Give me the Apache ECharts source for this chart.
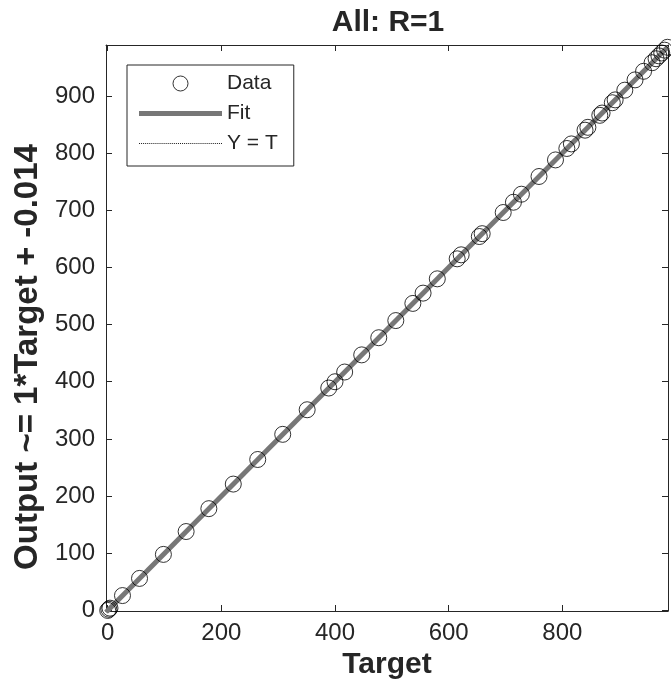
<!DOCTYPE html>
<html><head><meta charset="utf-8">
<script src="https://cdn.jsdelivr.net/npm/echarts@6/dist/echarts.min.js"></script>
<style>html,body{margin:0;padding:0;background:#fff}#c{width:671px;height:685px}</style>
</head><body><div id="c"></div>
<script>
const titleText = 'All: R=1';
const xName = 'Target';
const yName = 'Output ~= 1*Target + -0.014';
const legendNames = ['Data', 'Fit', 'Y = T'];
const xTicks = [0, 200, 400, 600, 800];
const yTicks = [0, 100, 200, 300, 400, 500, 600, 700, 800, 900];
const xLimits = [-3, 986];
const yLimits = [-1, 989];
const targets = [0, 2, 4, 26, 56, 98, 138, 178, 221, 264, 308, 351, 389, 400, 417, 447, 477, 507, 537, 555, 580, 615, 622, 654, 659, 696, 714, 728, 759, 788, 808, 816, 840, 845, 866, 870, 888, 893, 910, 928, 943, 958, 965, 970, 975, 980, 985];
const outputs = [0, 2, 4, 26, 56, 98, 138, 178, 221, 264, 308, 351, 389, 400, 417, 447, 477, 507, 537, 555, 580, 615, 622, 654, 659, 696, 714, 728, 759, 788, 808, 816, 840, 845, 866, 870, 888, 893, 910, 928, 943, 958, 965, 970, 975, 980, 985];
const fitX = [-3, 986];
const fitY = [-3.014, 985.986];
const idX = [-3, 986];
const idY = [-3, 986];

const FONT = '"Liberation Sans", Arial, Helvetica, sans-serif';
const INK = '#262626';
const FITC = '#777777';
const pairs = (a, b) => a.map((v, i) => [v, b[i]]);

// legend icons: a thick bar for the fit line, a row of small dots for Y = T
const fitIcon = 'path://M0,0H83V5H0Z';
let dotPath = '';
for (let i = 0; i < 41; i++) dotPath += 'M' + (i * 2) + ',0h1v1h-1z';
const dotIcon = 'path://' + dotPath;

const chart = echarts.init(document.getElementById('c'), null, {renderer: 'canvas'});
const tickStyle = {show: true, inside: true, length: 6, lineStyle: {color: INK, width: 1}};
const lineStyle = {show: true, onZero: false, lineStyle: {color: INK, width: 1}};
chart.setOption({
  animation: false,
  backgroundColor: '#fff',
  textStyle: {fontFamily: FONT},
  title: {
    text: titleText, left: 388, top: 8, textAlign: 'center', padding: 0,
    textStyle: {fontFamily: FONT, fontSize: 30, fontWeight: 'bold', color: INK}
  },
  legend: {
    orient: 'vertical', left: 127, top: 65,
    padding: [8, 16, 12, 12], itemGap: 9, itemWidth: 83, itemHeight: 15,
    borderColor: INK, borderWidth: 1, backgroundColor: '#fff',
    textStyle: {fontFamily: FONT, fontSize: 21, color: INK},
    selectedMode: false,
    data: [
      {name: legendNames[0], icon: 'circle', itemStyle: {color: 'transparent', borderColor: '#000', borderWidth: 1}},
      {name: legendNames[1], icon: fitIcon, itemStyle: {color: FITC, borderWidth: 0}},
      {name: legendNames[2], icon: dotIcon, itemStyle: {color: '#222', borderWidth: 0}}
    ]
  },
  grid: {left: 106, right: -1, top: 45, bottom: 73, containLabel: false},
  xAxis: [{
    type: 'value', min: xLimits[0], max: xLimits[1], position: 'bottom',
    name: xName, nameLocation: 'middle', nameGap: 39,
    nameTextStyle: {fontFamily: FONT, fontSize: 30, fontWeight: 'bold', color: INK},
    axisLine: lineStyle, axisTick: tickStyle, splitLine: {show: false},
    axisLabel: {margin: 10, fontSize: 24, color: INK, fontFamily: FONT,
      formatter: v => xTicks.includes(Math.round(v * 1000) / 1000) ? String(v) : ''}
  }, {
    type: 'value', min: xLimits[0], max: xLimits[1], position: 'top',
    axisLine: lineStyle, axisTick: tickStyle, splitLine: {show: false}, axisLabel: {show: false}
  }],
  yAxis: [{
    type: 'value', min: yLimits[0], max: yLimits[1], position: 'left', splitNumber: 10,
    name: yName, nameLocation: 'middle', nameGap: 62,
    nameTextStyle: {fontFamily: FONT, fontSize: 33, fontWeight: 'bold', color: INK, padding: [0, 58, 0, 0]},
    axisLine: lineStyle, axisTick: tickStyle, splitLine: {show: false},
    axisLabel: {margin: 11, fontSize: 24, color: INK, fontFamily: FONT,
      formatter: v => yTicks.includes(Math.round(v * 1000) / 1000) ? String(v) : ''}
  }, {
    type: 'value', min: yLimits[0], max: yLimits[1], position: 'right', splitNumber: 10,
    axisLine: lineStyle, axisTick: tickStyle, splitLine: {show: false}, axisLabel: {show: false}
  }],
  series: [{
    name: legendNames[2], type: 'line', data: pairs(idX, idY), symbol: 'none', z: 1,
    lineStyle: {color: '#000', width: 1, type: 'dotted'}, itemStyle: {color: '#000'}
  }, {
    name: legendNames[1], type: 'line', data: pairs(fitX, fitY), symbol: 'none', z: 2,
    lineStyle: {color: FITC, width: 5}, itemStyle: {color: FITC}
  }, {
    name: legendNames[0], type: 'scatter', data: pairs(targets, outputs), symbol: 'circle', symbolSize: 16, z: 3,
    itemStyle: {color: 'transparent', borderColor: '#000', borderWidth: 1}
  }]
});
</script></body></html>
